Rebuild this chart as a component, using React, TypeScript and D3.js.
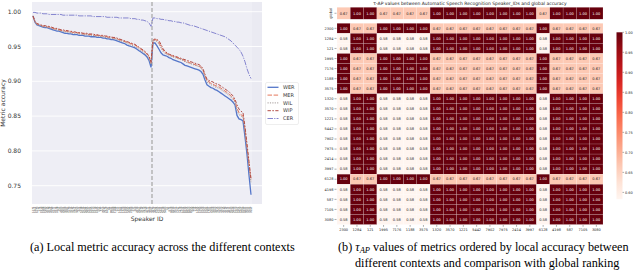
import React from 'react';
import * as d3 from 'd3';

// speakers on the x axis of the left panel, in plotted order
const speakerIds = [
  '1272', '1462', '1673', '174', '1919', '1988', '1993', '2035', '2078', '2086',
  '2277', '2412', '2428', '251', '2803', '2902', '3000', '3081', '3170', '3536',
  '3576', '3752', '3853', '422', '5338', '5536', '5694', '5895', '6241', '6295',
  '6313', '6319', '6345', '652', '777', '7850', '7976', '8297', '84', '8842',
  '1089', '1188', '121', '1221', '1284', '1320', '1580', '1995', '2094', '2300',
  '237', '260', '2830', '2961', '3570', '3575', '3729', '4077', '4446', '4507',
  '4970', '4992', '5105', '5142', '5442', '5639', '5683', '61', '672', '6829',
  '6930', '7021', '7127', '7176', '7729', '8224', '8230', '8455', '8463', '8555',
  '908', '116', '1255', '1585', '1630', '1650', '1651', '1686', '1701', '2506',
  '3660', '3663', '3915', '4153', '4323', '4515', '4570', '4572', '4831', '5543',
  '5849', '6123', '6267', '6455', '6467', '6599', '6841', '7601', '7641', '7697',
];
const splitAfter = '4507';

const werValues = [
  0.994, 0.985, 0.981, 0.980, 0.979, 0.978, 0.977, 0.977, 0.976, 0.975,
  0.974, 0.973, 0.972, 0.972, 0.971, 0.970, 0.969, 0.969, 0.968, 0.968,
  0.967, 0.967, 0.967, 0.966, 0.966, 0.966, 0.965, 0.965, 0.965, 0.964,
  0.964, 0.964, 0.963, 0.963, 0.963, 0.962, 0.962, 0.961, 0.961, 0.960,
  0.960, 0.959, 0.958, 0.957, 0.956, 0.955, 0.954, 0.952, 0.951, 0.950,
  0.949, 0.948, 0.946, 0.944, 0.942, 0.940, 0.938, 0.935, 0.930, 0.920,
  0.955, 0.955, 0.951, 0.946, 0.941, 0.938, 0.937, 0.936, 0.934, 0.933,
  0.931, 0.930, 0.929, 0.928, 0.927, 0.925, 0.923, 0.922, 0.921, 0.920,
  0.919, 0.918, 0.917, 0.916, 0.914, 0.910, 0.902, 0.895, 0.893, 0.891,
  0.890, 0.888, 0.887, 0.885, 0.883, 0.881, 0.879, 0.877, 0.875, 0.873,
  0.870, 0.866, 0.851, 0.846, 0.845, 0.843, 0.820, 0.795, 0.765, 0.737,
];
const merValues = [
  0.993, 0.986, 0.982, 0.981, 0.980, 0.979, 0.979, 0.978, 0.978, 0.977,
  0.976, 0.975, 0.975, 0.974, 0.973, 0.973, 0.972, 0.972, 0.971, 0.971,
  0.970, 0.970, 0.970, 0.969, 0.969, 0.968, 0.968, 0.968, 0.967, 0.967,
  0.967, 0.966, 0.966, 0.966, 0.965, 0.965, 0.964, 0.964, 0.963, 0.963,
  0.962, 0.962, 0.961, 0.960, 0.959, 0.958, 0.957, 0.956, 0.955, 0.954,
  0.953, 0.952, 0.950, 0.948, 0.946, 0.944, 0.942, 0.939, 0.935, 0.926,
  0.958, 0.960, 0.959, 0.955, 0.950, 0.945, 0.941, 0.940, 0.938, 0.937,
  0.936, 0.935, 0.934, 0.933, 0.932, 0.931, 0.929, 0.928, 0.927, 0.926,
  0.925, 0.924, 0.923, 0.922, 0.920, 0.916, 0.908, 0.901, 0.899, 0.897,
  0.896, 0.894, 0.893, 0.892, 0.890, 0.888, 0.886, 0.884, 0.882, 0.879,
  0.876, 0.871, 0.861, 0.855, 0.852, 0.850, 0.830, 0.805, 0.780, 0.758,
];
const wilValues = [
  0.993, 0.985, 0.981, 0.981, 0.980, 0.979, 0.978, 0.978, 0.977, 0.976,
  0.975, 0.975, 0.974, 0.973, 0.972, 0.972, 0.971, 0.971, 0.970, 0.970,
  0.969, 0.969, 0.969, 0.968, 0.968, 0.967, 0.967, 0.967, 0.966, 0.966,
  0.966, 0.965, 0.965, 0.965, 0.964, 0.964, 0.963, 0.963, 0.962, 0.962,
  0.961, 0.961, 0.960, 0.959, 0.958, 0.957, 0.956, 0.955, 0.953, 0.952,
  0.951, 0.950, 0.948, 0.946, 0.944, 0.942, 0.940, 0.937, 0.933, 0.924,
  0.957, 0.959, 0.957, 0.953, 0.948, 0.943, 0.940, 0.939, 0.937, 0.936,
  0.935, 0.934, 0.933, 0.932, 0.931, 0.930, 0.928, 0.927, 0.926, 0.925,
  0.924, 0.923, 0.922, 0.921, 0.919, 0.915, 0.906, 0.899, 0.897, 0.895,
  0.894, 0.892, 0.891, 0.890, 0.888, 0.886, 0.884, 0.882, 0.880, 0.877,
  0.874, 0.869, 0.858, 0.852, 0.850, 0.848, 0.828, 0.803, 0.778, 0.755,
];
const wipValues = [
  0.994, 0.986, 0.983, 0.982, 0.981, 0.980, 0.980, 0.979, 0.979, 0.978,
  0.977, 0.976, 0.976, 0.975, 0.974, 0.974, 0.973, 0.973, 0.972, 0.972,
  0.971, 0.971, 0.970, 0.970, 0.970, 0.969, 0.969, 0.969, 0.968, 0.968,
  0.968, 0.967, 0.967, 0.966, 0.966, 0.966, 0.965, 0.965, 0.964, 0.964,
  0.963, 0.963, 0.962, 0.961, 0.960, 0.959, 0.958, 0.957, 0.956, 0.955,
  0.954, 0.953, 0.951, 0.949, 0.947, 0.945, 0.943, 0.940, 0.936, 0.928,
  0.959, 0.961, 0.960, 0.958, 0.953, 0.947, 0.943, 0.941, 0.939, 0.938,
  0.937, 0.936, 0.935, 0.934, 0.933, 0.932, 0.931, 0.930, 0.929, 0.928,
  0.927, 0.926, 0.925, 0.924, 0.922, 0.918, 0.910, 0.903, 0.901, 0.900,
  0.899, 0.897, 0.896, 0.895, 0.893, 0.891, 0.889, 0.887, 0.885, 0.882,
  0.879, 0.874, 0.866, 0.860, 0.857, 0.855, 0.835, 0.810, 0.785, 0.760,
];
const cerValues = [
  0.999, 0.999, 0.998, 0.998, 0.998, 0.997, 0.997, 0.997, 0.996, 0.996,
  0.996, 0.996, 0.996, 0.996, 0.996, 0.995, 0.995, 0.995, 0.995, 0.995,
  0.995, 0.995, 0.995, 0.994, 0.994, 0.994, 0.994, 0.994, 0.994, 0.994,
  0.993, 0.993, 0.993, 0.993, 0.993, 0.993, 0.993, 0.992, 0.992, 0.992,
  0.992, 0.992, 0.992, 0.991, 0.991, 0.991, 0.991, 0.991, 0.991, 0.990,
  0.990, 0.990, 0.989, 0.989, 0.988, 0.988, 0.987, 0.986, 0.984, 0.979,
  0.991, 0.991, 0.990, 0.990, 0.989, 0.989, 0.988, 0.988, 0.987, 0.987,
  0.986, 0.986, 0.985, 0.985, 0.984, 0.984, 0.983, 0.982, 0.981, 0.980,
  0.980, 0.979, 0.978, 0.977, 0.976, 0.975, 0.974, 0.973, 0.972, 0.971,
  0.970, 0.969, 0.968, 0.967, 0.966, 0.965, 0.964, 0.962, 0.960, 0.958,
  0.955, 0.952, 0.949, 0.946, 0.942, 0.936, 0.928, 0.918, 0.910, 0.904,
];

const metricNames = ['WER', 'MER', 'WIL', 'WIP', 'CER'];
const metricValues = [werValues, merValues, wilValues, wipValues, cerValues];
const metricColors = ['#5476c9', '#e5775c', '#a39a98', '#b24c45', '#8585cf'];
const metricDashes = ['', '4.5,1.6', '1.2,1.2', '3.4,1.4,1.6,1.4', '5.5,1.2,1.2,1.2'];
const metricWidths = [1.3, 1.0, 1.0, 1.0, 1.0];
const yTicks = [0.75, 0.8, 0.85, 0.9, 0.95, 1.0];

// right panel: tau-AP heatmap
const heatIds = ['2300', '1284', '121', '1995', '7176', '1188', '3575', '1320', '3570', '1221',
  '5442', '7902', '7975', '2414', '3997', '6128', '4198', '587', '7105', '3080'];
const globalRow = [0.667, 1, 1, 0.667, 0.667, 0.667, 0.667, 1, 1, 1, 1, 1, 1, 1, 1, 0.667, 1, 1, 1, 1];
const rowA = [1, 0.667, 0.667, 1, 1, 1, 1, 0.667, 0.667, 0.667, 0.667, 0.667, 0.667, 0.667, 0.667, 1, 0.667, 0.667, 0.667, 0.667];
const rowB = [0.583, 1, 1, 0.583, 0.583, 0.583, 0.583, 1, 1, 1, 1, 1, 1, 1, 1, 0.583, 1, 1, 1, 1];
const tauMatrix = [rowA, rowB, rowB, rowA, rowA, rowA, rowA, rowB, rowB, rowB,
  rowB, rowB, rowB, rowB, rowB, rowA, rowB, rowB, rowB, rowB];
const colorbarTicks = [0.6, 0.65, 0.7, 0.75, 0.8, 0.85, 0.9, 0.95, 1.0];

const FONT = 'DejaVu Sans, sans-serif';
const SERIF = 'Liberation Serif, Times New Roman, serif';

const App: React.FC = () => {
  // left panel scales
  const plot = { left: 32, right: 262, top: 2, bottom: 204 };
  const x = d3.scalePoint<string>().domain(speakerIds).range([33, 251]);
  const y = d3.scaleLinear().domain([0.75, 1.0]).range([185.7, 11.7]);
  const splitIdx = speakerIds.indexOf(splitAfter);
  const splitX = ((x(speakerIds[splitIdx]) as number) + (x(speakerIds[splitIdx + 1]) as number)) / 2;

  const line = d3.line<number>()
    .x((_, i) => x(speakerIds[i]) as number)
    .y(d => y(d));

  // right panel scales
  const hx = d3.scaleBand<string>().domain(heatIds).range([337, 603]);
  const hy = d3.scaleBand<string>().domain(heatIds).range([23.3, 224.5]);
  const globalTop = 7.3, globalBottom = 19.2;
  const color = d3.scaleSequential(d3.interpolateReds).domain([0.583, 1.0]);
  const cb = { x: 616.5, w: 6, top: 32.3, bottom: 199.2 };
  const cbY = d3.scaleLinear().domain([0.583, 1.0]).range([cb.bottom, cb.top]);

  const cellText = (v: number) => (v > 0.8 ? '#ffffff' : '#262626');

  return (
    <svg width={640} height={271} style={{ position: 'absolute', left: 0, top: 0, background: '#fff' }}>
      <defs>
        <linearGradient id="cbGrad" x1="0" y1="1" x2="0" y2="0">
          {d3.range(0, 1.0001, 0.1).map(t => (
            <stop key={t} offset={t} stopColor={d3.interpolateReds(t)} />
          ))}
        </linearGradient>
      </defs>

      {/* ---- left panel ---- */}
      <rect x={plot.left} y={plot.top} width={plot.right - plot.left} height={plot.bottom - plot.top} fill="#eaeaf2" />
      {speakerIds.map(id => (
        <line key={'vg' + id} x1={x(id)} x2={x(id)} y1={plot.top} y2={plot.bottom} stroke="#fff" strokeWidth={0.45} />
      ))}
      {yTicks.map(t => (
        <g key={'yt' + t}>
          <line x1={plot.left} x2={plot.right} y1={y(t)} y2={y(t)} stroke="#fff" strokeWidth={0.9} />
          <text x={21} y={y(t)} dy="0.35em" textAnchor="end" fontSize={6} fontFamily={FONT} fill="#333">
            {t.toFixed(2)}
          </text>
        </g>
      ))}
      {speakerIds.map(id => (
        <text key={'xt' + id} transform={`translate(${(x(id) as number) + 0.8},206.5) rotate(-90)`}
          textAnchor="end" fontSize={2.6} fontFamily={FONT} fill="#333">{id}</text>
      ))}
      <line x1={splitX} x2={splitX} y1={plot.top} y2={plot.bottom} stroke="#b0b0b0" strokeWidth={1.4} strokeDasharray="4,2" />
      {metricValues.map((vals, k) => (
        <path key={metricNames[k]} d={line(vals) || ''} fill="none" stroke={metricColors[k]}
          strokeWidth={metricWidths[k]} strokeDasharray={metricDashes[k]} />
      ))}
      <text transform="translate(5,103) rotate(-90)" textAnchor="middle" fontSize={6} fontFamily={FONT} fill="#333">Metric accuracy</text>
      <text x={147} y={221} textAnchor="middle" fontSize={6} fontFamily={FONT} fill="#333">Speaker ID</text>

      {/* legend */}
      <rect x={265.5} y={82.5} width={33} height={42} rx={1.5} fill="#fff" stroke="#dddddd" strokeWidth={0.5} />
      {metricNames.map((m, k) => {
        const ly = 87.3 + k * 7.8;
        return (
          <g key={'lg' + m}>
            <line x1={267.5} x2={278.5} y1={ly} y2={ly} stroke={metricColors[k]} strokeWidth={metricWidths[k]} strokeDasharray={metricDashes[k]} />
            <text x={283} y={ly} dy="0.35em" fontSize={5} fontFamily={FONT} fill="#333">{m}</text>
          </g>
        );
      })}

      {/* ---- right panel ---- */}
      <text x={470} y={5.2} textAnchor="middle" fontSize={4.5} fontFamily={FONT} fill="#222">
        τ-AP values between Automatic Speech Recognition Speaker_IDs and global accuracy
      </text>
      {globalRow.map((v, j) => (
        <g key={'gr' + j}>
          <rect x={hx(heatIds[j])} y={globalTop} width={hx.bandwidth()} height={globalBottom - globalTop}
            fill={color(v)} stroke="#ffffff" strokeOpacity={0.35} strokeWidth={0.4} />
          <text x={(hx(heatIds[j]) as number) + hx.bandwidth() / 2} y={(globalTop + globalBottom) / 2} dy="0.35em"
            textAnchor="middle" fontSize={3.6} fontFamily={FONT} fill={cellText(v)}>{v.toFixed(2)}</text>
        </g>
      ))}
      <text transform={`translate(332.2,${(globalTop + globalBottom) / 2}) rotate(-90)`} textAnchor="middle"
        fontSize={3.6} fontFamily={FONT} fill="#222">global</text>
      <line x1={334.5} x2={336.5} y1={(globalTop + globalBottom) / 2} y2={(globalTop + globalBottom) / 2} stroke="#333" strokeWidth={0.4} />

      {tauMatrix.map((row, i) => (
        <g key={'row' + i}>
          {row.map((v, j) => (
            <g key={'c' + i + '-' + j}>
              <rect x={hx(heatIds[j])} y={hy(heatIds[i])} width={hx.bandwidth()} height={hy.bandwidth()}
                fill={color(v)} stroke="#ffffff" strokeOpacity={0.35} strokeWidth={0.4} />
              <text x={(hx(heatIds[j]) as number) + hx.bandwidth() / 2}
                y={(hy(heatIds[i]) as number) + hy.bandwidth() / 2} dy="0.35em"
                textAnchor="middle" fontSize={3.6} fontFamily={FONT} fill={cellText(v)}>{v.toFixed(2)}</text>
            </g>
          ))}
          <line x1={334.5} x2={336.5} y1={(hy(heatIds[i]) as number) + hy.bandwidth() / 2}
            y2={(hy(heatIds[i]) as number) + hy.bandwidth() / 2} stroke="#333" strokeWidth={0.4} />
          <text x={333.5} y={(hy(heatIds[i]) as number) + hy.bandwidth() / 2} dy="0.35em" textAnchor="end"
            fontSize={3.5} fontFamily={FONT} fill="#222">{heatIds[i]}</text>
        </g>
      ))}
      {heatIds.map(id => (
        <g key={'ct' + id}>
          <line x1={(hx(id) as number) + hx.bandwidth() / 2} x2={(hx(id) as number) + hx.bandwidth() / 2}
            y1={225} y2={226.8} stroke="#333" strokeWidth={0.4} />
          <text x={(hx(id) as number) + hx.bandwidth() / 2} y={231} textAnchor="middle"
            fontSize={3.5} fontFamily={FONT} fill="#222">{id}</text>
        </g>
      ))}

      {/* colorbar */}
      <rect x={cb.x} y={cb.top} width={cb.w} height={cb.bottom - cb.top} fill="url(#cbGrad)" />
      {colorbarTicks.map(t => (
        <g key={'cb' + t}>
          <line x1={cb.x + cb.w} x2={cb.x + cb.w + 1.5} y1={cbY(t)} y2={cbY(t)} stroke="#333" strokeWidth={0.4} />
          <text x={cb.x + cb.w + 2.5} y={cbY(t)} dy="0.35em" fontSize={3.5} fontFamily={FONT} fill="#222">{t.toFixed(2)}</text>
        </g>
      ))}

      {/* captions */}
      <text x={30} y={251} fontSize={12.2} fontFamily={SERIF} fill="#000">
        (a) Local metric accuracy across the different contexts
      </text>
      <text x={338} y={251} fontSize={12.2} fontFamily={SERIF} fill="#000">
        (b) <tspan fontStyle="italic">τ</tspan><tspan fontStyle="italic" fontSize={8.5} dy={2}>AP</tspan>
        <tspan dy={-2}> values of metrics ordered by local accuracy between</tspan>
      </text>
      <text x={355} y={267} fontSize={12.2} fontFamily={SERIF} fill="#000">
        different contexts and comparison with global ranking
      </text>
    </svg>
  );
};

export default App;
